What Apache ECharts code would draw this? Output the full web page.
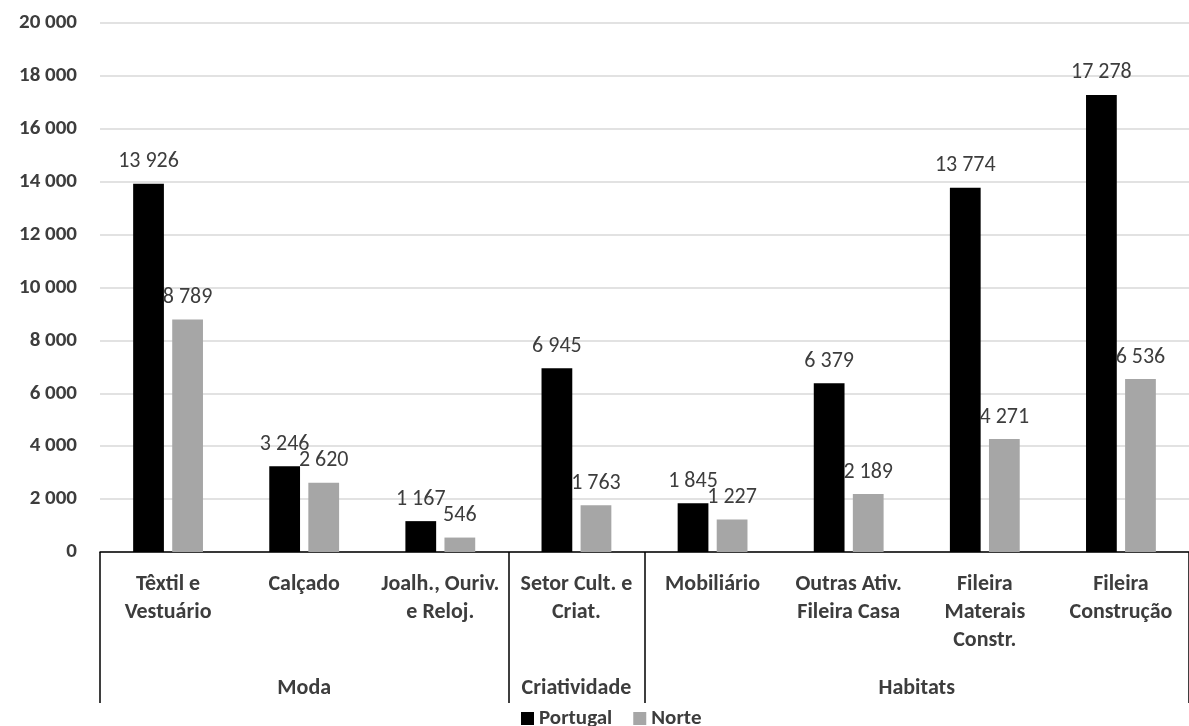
<!DOCTYPE html>
<html>
<head>
<meta charset="utf-8">
<script src="https://cdn.jsdelivr.net/npm/echarts@6/dist/echarts.min.js"></script>
<style>
  html, body { margin: 0; padding: 0; background: #fff; }
  #chart { width: 1189px; height: 726px; }
</style>
</head>
<body>
<div id="chart"></div>
<script>
// dados
const categories = [
  'Têxtil e\nVestuário',
  'Calçado',
  'Joalh., Ouriv.\ne Reloj.',
  'Setor Cult. e\nCriat.',
  'Mobiliário',
  'Outras Ativ.\nFileira Casa',
  'Fileira\nMaterais\nConstr.',
  'Fileira\nConstrução'
]
const groupNames = ['Moda', 'Criatividade', 'Habitats']
const groupSpans = [3, 1, 4]
const portugal = [13926, 3246, 1167, 6945, 1845, 6379, 13774, 17278]
const norte = [8789, 2620, 546, 1763, 1227, 2189, 4271, 6536]
const yTicks = { min: 0, max: 20000, interval: 2000 }

const FONT = 'Carlito, Lato, sans-serif'
const TEXT = '#3d3d3d'

// fronteiras e centros dos grupos
const boundaries = [0]
const centers = []
groupSpans.forEach(s => {
  const start = boundaries[boundaries.length - 1]
  centers.push(start + s / 2)
  boundaries.push(start + s)
})

const fmt = v => String(v).replace(/\B(?=(\d{3})+(?!\d))/g, ' ')

const chart = echarts.init(document.getElementById('chart'))

const valueLabel = {
  show: true,
  position: 'top',
  distance: 11,
  fontFamily: FONT,
  fontSize: 22,
  color: TEXT,
  formatter: p => fmt(p.value)
}

const option = {
  animation: false,
  grid: { left: 100, top: 23, width: 1098, height: 529 },
  legend: {
    data: ['Portugal', 'Norte'],
    left: 521,
    top: 708,
    padding: 0,
    icon: 'rect',
    itemWidth: 13,
    itemHeight: 13,
    itemGap: 21,
    textStyle: { fontFamily: FONT, fontWeight: 'bold', fontSize: 21, color: TEXT }
  },
  xAxis: [
    {
      type: 'category',
      data: categories,
      position: 'bottom',
      axisLine: { lineStyle: { color: '#000', width: 1.5 } },
      axisTick: { show: false },
      axisLabel: {
        interval: 0,
        margin: 18,
        fontFamily: FONT,
        fontWeight: 'bold',
        fontSize: 22,
        lineHeight: 28,
        color: TEXT
      }
    },
    {
      type: 'value',
      position: 'bottom',
      min: 0,
      max: boundaries[boundaries.length - 1],
      axisLine: { show: false },
      splitLine: { show: false },
      axisTick: {
        show: true,
        customValues: boundaries,
        length: 151,
        lineStyle: { color: '#000', width: 1.5 }
      },
      axisLabel: {
        customValues: centers,
        margin: 122,
        fontFamily: FONT,
        fontWeight: 'bold',
        fontSize: 22,
        lineHeight: 28,
        color: TEXT,
        formatter: v => {
          const i = centers.findIndex(c => Math.abs(c - v) < 1e-6)
          return i >= 0 ? groupNames[i] : ''
        }
      }
    }
  ],
  yAxis: {
    type: 'value',
    min: yTicks.min,
    max: yTicks.max,
    interval: yTicks.interval,
    axisLine: { show: false },
    axisTick: { show: false },
    splitLine: { lineStyle: { color: '#d9d9d9', width: 1.5 } },
    axisLabel: {
      margin: 23,
      fontFamily: FONT,
      fontWeight: 'bold',
      fontSize: 21,
      color: TEXT,
      formatter: fmt
    }
  },
  series: [
    {
      name: 'Portugal',
      type: 'bar',
      data: portugal,
      barWidth: '22.6%',
      barGap: '27%',
      itemStyle: { color: '#000000' },
      label: valueLabel
    },
    {
      name: 'Norte',
      type: 'bar',
      data: norte,
      barWidth: '22.6%',
      barGap: '27%',
      itemStyle: { color: '#a6a6a6' },
      label: valueLabel
    }
  ]
}

chart.setOption(option)
</script>
</body>
</html>
